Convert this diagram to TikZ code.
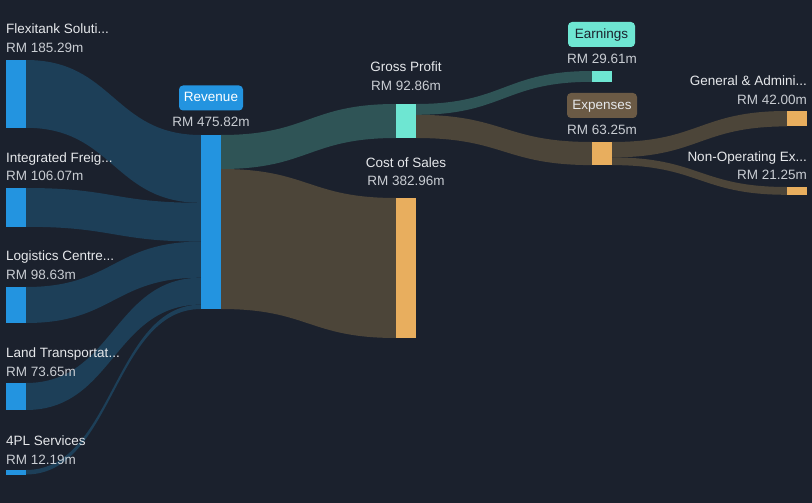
\documentclass[tikz,border=0pt]{standalone}
\usepackage{fontspec}
\setmainfont{Liberation Sans}
\definecolor{bg}{HTML}{1B212D}
\definecolor{nblue}{HTML}{2394E0}
\definecolor{fblue}{HTML}{1D3F58}
\definecolor{nteal}{HTML}{6EE6D2}
\definecolor{fteal}{HTML}{2F5456}
\definecolor{norange}{HTML}{E8AE5E}
\definecolor{fbrown}{HTML}{4C4539}
\definecolor{boxbrown}{HTML}{6B5A45}
\definecolor{tname}{HTML}{E6E8EB}
\definecolor{tval}{HTML}{C9CDD3}
\newcommand{\band}[7]{\fill[#7] (#1,#2) .. controls ({(#1+#4)/2},#2) and ({(#1+#4)/2},#5) .. (#4,#5) -- (#4,#6) .. controls ({(#1+#4)/2},#6) and ({(#1+#4)/2},#3) .. (#1,#3) -- cycle;}
\tikzset{
  lbl/.style={inner sep=0pt, font=\fontsize{13.5}{16}\selectfont},
  nm/.style={lbl, text=tname},
  val/.style={lbl, text=tval},
  tag/.style={lbl, rounded corners=4pt, minimum height=25pt, inner sep=0pt},
}
\begin{document}
\begin{tikzpicture}[x=1pt,y=-1pt]
\fill[bg] (0,0) rectangle (812,503);
\useasboundingbox (0,0) rectangle (812,503);
% flows into revenue
\band{26}{60}{127.8}{201}{135}{202.8}{fblue}
\band{26}{188}{226.8}{201}{202.8}{241.6}{fblue}
\band{26}{287}{323}{201}{241.6}{277.7}{fblue}
\band{26}{383}{410}{201}{277.7}{304.6}{fblue}
\band{26}{470}{474.5}{201}{304.6}{309}{fblue}
% revenue outflows
\band{221}{135}{169}{396}{104}{138}{fteal}
\band{221}{169}{309}{396}{198}{338}{fbrown}
% gross profit outflows
\band{416}{104}{114.8}{592}{71}{81.8}{fteal}
\band{416}{114.8}{138}{592}{142}{165.1}{fbrown}
% expenses outflows
\band{612}{142}{157.4}{787}{111}{126.4}{fbrown}
\band{612}{157.4}{165.1}{787}{187}{194.8}{fbrown}
% bars
\fill[nblue] (6,60) rectangle (26,127.8) coordinate (flex);
\fill[nblue] (6,188) rectangle (26,226.8) coordinate (integ);
\fill[nblue] (6,287) rectangle (26,323) coordinate (logi);
\fill[nblue] (6,383) rectangle (26,410) coordinate (land);
\fill[nblue] (6,470) rectangle (26,474.5) coordinate (fourpl);
\fill[nblue] (201,135) rectangle (221,309) coordinate (rev);
\fill[nteal] (396,104) rectangle (416,138) coordinate (gp);
\fill[norange] (396,198) rectangle (416,338) coordinate (cos);
\fill[nteal] (592,71) rectangle (612,81.8) coordinate (earn);
\fill[norange] (592,142) rectangle (612,165.1) coordinate (exp);
\fill[norange] (787,111) rectangle (807,126.4) coordinate (ga);
\fill[norange] (787,187) rectangle (807,194.8) coordinate (nonop);
% left labels
\node[nm, anchor=base west] (l1) at (6,34) {Flexitank Soluti...};
\node[val, anchor=base west] (v1) at (6,53) {RM 185.29m};
\node[nm, anchor=base west] (l2) at (6,162) {Integrated Freig...};
\node[val, anchor=base west] (v2) at (6,180) {RM 106.07m};
\node[nm, anchor=base west] (l3) at (6,260) {Logistics Centre...};
\node[val, anchor=base west] (v3) at (6,279) {RM 98.63m};
\node[nm, anchor=base west] (l4) at (6,357) {Land Transportat...};
\node[val, anchor=base west] (v4) at (6,376) {RM 73.65m};
\node[nm, anchor=base west] (l5) at (6,445) {4PL Services};
\node[val, anchor=base west] (v5) at (6,464) {RM 12.19m};
% revenue
\node[tag, fill=nblue, minimum width=64pt] (revbox) at (211,98) {};
\node[lbl, text=white, anchor=base] (revtxt) at (211,102) {Revenue};
\node[val, anchor=base] (revval) at (211,127) {RM 475.82m};
% gross profit & cost of sales
\node[nm, anchor=base] (gpl) at (406,72) {Gross Profit};
\node[val, anchor=base] (gpv) at (406,91) {RM 92.86m};
\node[nm, anchor=base] (cosl) at (406,167) {Cost of Sales};
\node[val, anchor=base] (cosv) at (406,185) {RM 382.96m};
% earnings & expenses
\node[tag, fill=nteal, minimum width=67pt] (earnbox) at (601.5,34.5) {};
\node[lbl, text=bg, anchor=base] (earntxt) at (601.5,39) {Earnings};
\node[val, anchor=base] (earnv) at (602,64) {RM 29.61m};
\node[tag, fill=boxbrown, minimum width=70pt] (expbox) at (602,105.5) {};
\node[lbl, text=tname, anchor=base] (exptxt) at (602,110) {Expenses};
\node[val, anchor=base] (expv) at (602,134) {RM 63.25m};
% right labels
\node[nm, anchor=base east] (gal) at (807,85) {General \& Admini...};
\node[val, anchor=base east] (gav) at (807,104) {RM 42.00m};
\node[nm, anchor=base east] (nol) at (807,161) {Non-Operating Ex...};
\node[val, anchor=base east] (nov) at (807,179) {RM 21.25m};
\end{tikzpicture}
\end{document}
